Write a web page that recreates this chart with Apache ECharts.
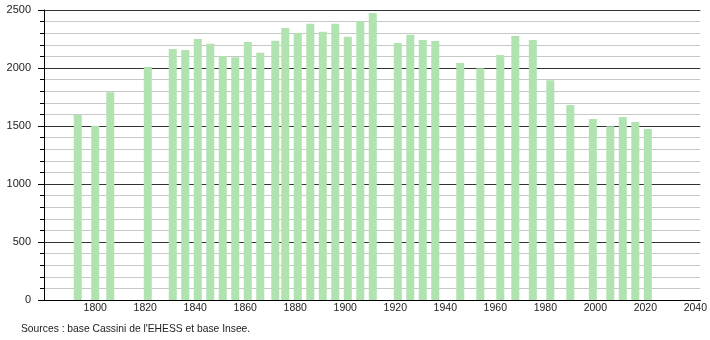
<!DOCTYPE html>
<html>
<head>
<meta charset="utf-8">
<script src="https://cdn.jsdelivr.net/npm/echarts@6/dist/echarts.min.js"></script>
<style>html,body{margin:0;padding:0;background:#fff;}#c{width:710px;height:340px;}</style>
</head>
<body>
<div id="c"></div>
<script>
const years = [1793,1800,1806,1821,1831,1836,1841,1846,1851,1856,1861,1866,1872,1876,1881,1886,1891,1896,1901,1906,1911,1921,1926,1931,1936,1946,1954,1962,1968,1975,1982,1990,1999,2006,2011,2016,2021];
const population = [1597,1503,1790,2008,2164,2155,2250,2209,2103,2092,2224,2132,2235,2345,2302,2382,2313,2382,2270,2405,2474,2215,2287,2241,2233,2043,1997,2112,2276,2241,1894,1681,1560,1497,1577,1534,1474];
const xTickLabels = [1800,1820,1840,1860,1880,1900,1920,1940,1960,1980,2000,2020,2040];
const yTickLabels = [0,500,1000,1500,2000,2500];
const sourceText = "Sources : base Cassini de l'EHESS et base Insee.";

const chart = echarts.init(document.getElementById('c'), null, {renderer:'canvas'});
chart.setOption({
  animation:false,
  backgroundColor:'#ffffff',
  textStyle:{fontFamily:'Liberation Sans, Arial, sans-serif'},
  grid:{left:44,right:9,top:10,bottom:40,containLabel:false},
  graphic:[{type:'text',left:21,top:324,style:{text:sourceText,font:'10.3px "Liberation Sans", Arial, sans-serif',fill:'#222'}}],
  xAxis:{
    type:'value',min:1779.5,max:2042,
    axisLine:{show:true,onZero:false,lineStyle:{color:'#000',width:1}},
    axisTick:{show:false},
    splitLine:{show:false},
    axisLabel:{customValues:xTickLabels,formatter:v=>String(v),color:'#222',fontSize:10.5,margin:3,fontFamily:'Liberation Sans, Arial, sans-serif'}
  },
  yAxis:{
    type:'value',min:0,max:2500,interval:500,
    axisLine:{show:true,lineStyle:{color:'#000',width:1}},
    axisTick:{show:true,length:6,lineStyle:{color:'#000'}},
    minorTick:{show:true,splitNumber:5,length:4,lineStyle:{color:'#000'}},
    splitLine:{show:true,lineStyle:{color:'#333',width:1}},
    minorSplitLine:{show:true,lineStyle:{color:'#c8c8c8',width:1}},
    axisLabel:{customValues:yTickLabels,formatter:v=>String(v),color:'#222',fontSize:11,margin:13,fontFamily:'Liberation Sans, Arial, sans-serif'}
  },
  series:[{
    type:'bar',
    data:years.map((y,i)=>[y,population[i]]),
    barWidth:8,
    itemStyle:{color:'#b0e3b0'},
    z:3
  }]
});
</script>
</body>
</html>
